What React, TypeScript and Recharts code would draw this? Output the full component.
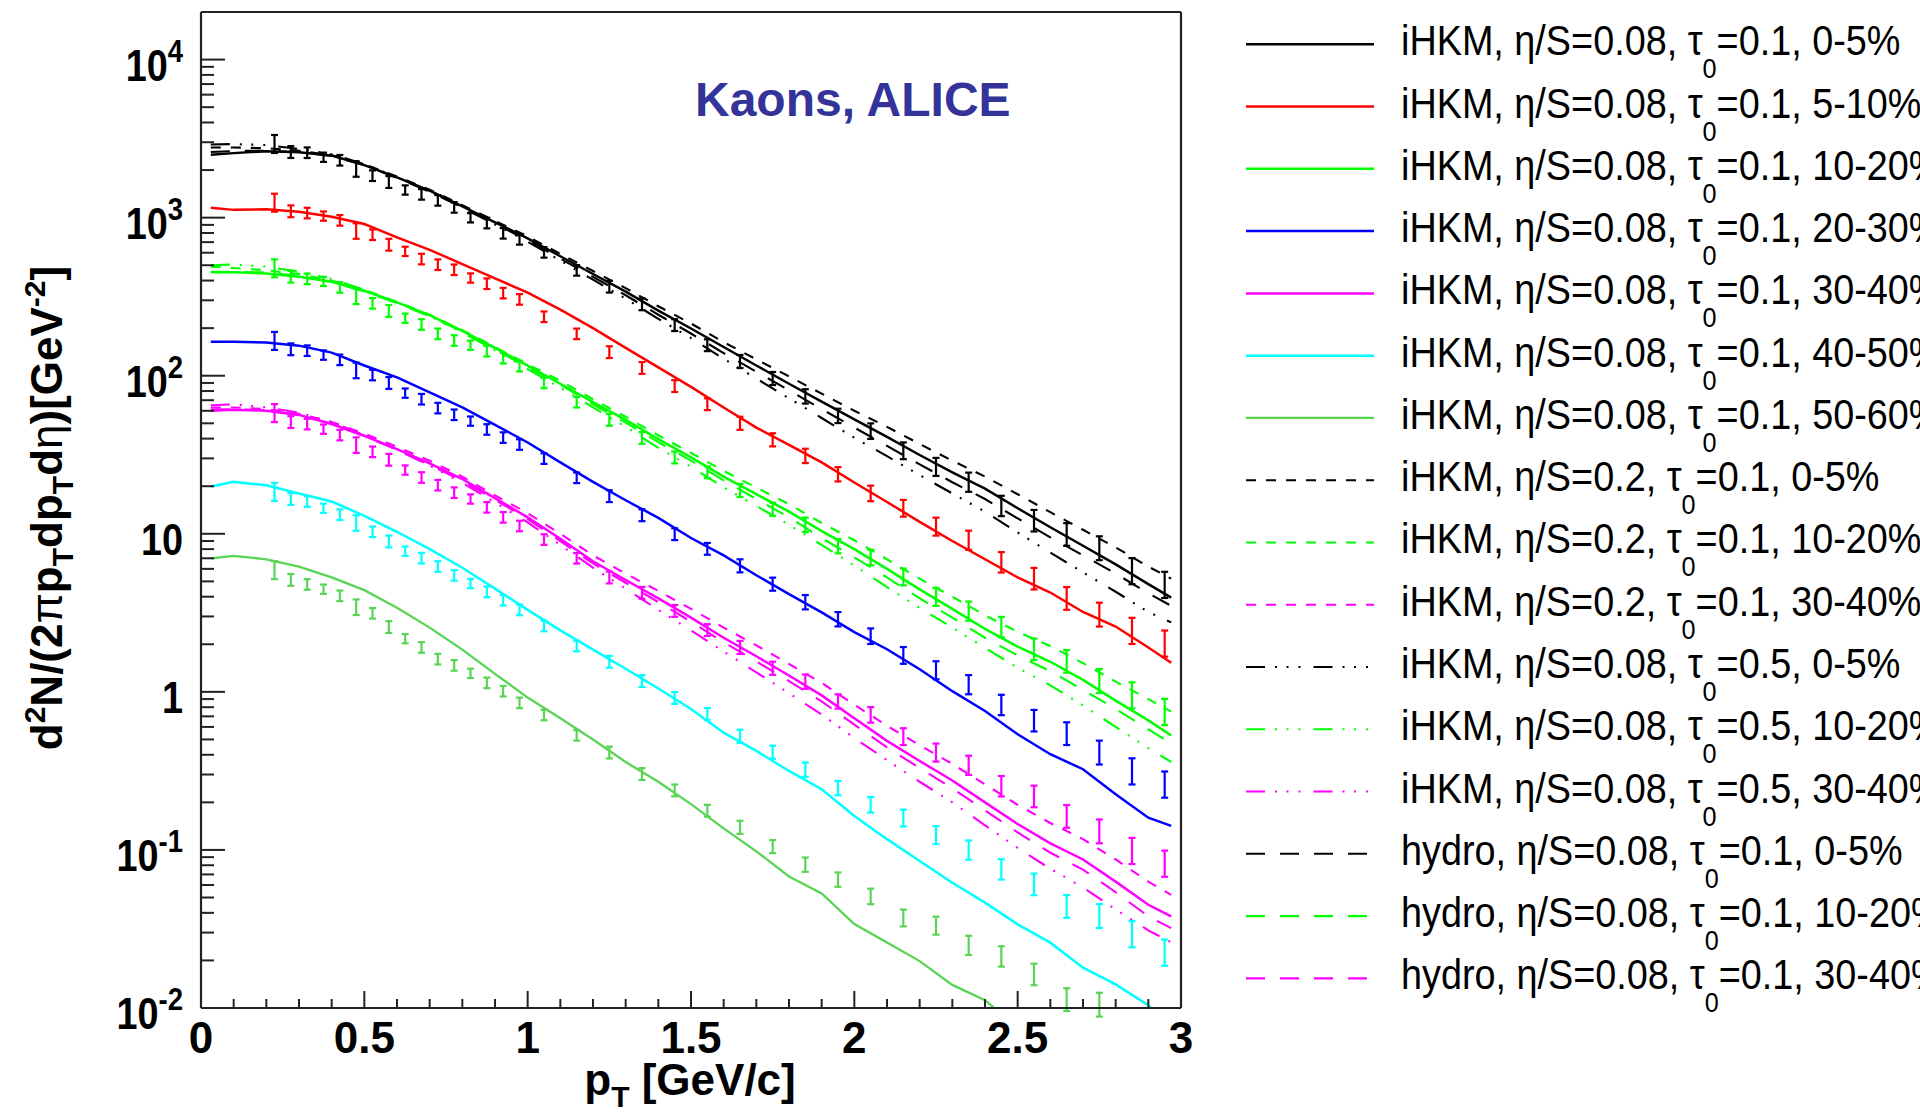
import React from 'react';
import {
  ComposedChart,
  Line,
  Scatter,
  ErrorBar,
  XAxis,
  YAxis,
  ReferenceLine,
  Customized,
} from 'recharts';

// pT grid of the model curves [GeV/c]
const curvePt = [
  0.03, 0.1, 0.2, 0.3, 0.4, 0.5, 0.6, 0.7, 0.8, 0.9, 1.0, 1.1, 1.2, 1.3, 1.4, 1.5,
  1.6, 1.7, 1.8, 1.9, 2.0, 2.1, 2.2, 2.3, 2.4, 2.5, 2.6, 2.7, 2.8, 2.9, 2.97,
];

// iHKM, eta/S = 0.08, tau0 = 0.1
const ihkmC0005 = [2500, 2560, 2630, 2590, 2470, 2150, 1800, 1480, 1180, 935, 740, 570, 440, 340, 258, 199, 152, 116, 89, 68.5, 53, 41, 31.5, 24.5, 19.3, 14.5, 11.0, 8.4, 6.4, 4.8, 3.95];
const ihkmC0510 = [1156, 1120, 1130, 1090, 1013, 911, 750, 626, 508, 413, 335, 262, 200, 150, 113, 85, 63, 47, 36.5, 28.3, 21.1, 15.9, 11.9, 9.0, 6.9, 5.3, 4.25, 3.2, 2.59, 1.91, 1.53];
const ihkmC1020 = [451, 451, 444, 423, 393, 345, 291, 242, 192, 150, 116, 89, 68, 52.5, 39.7, 30.4, 23, 17.8, 13.8, 10.4, 8.0, 6.0, 4.45, 3.35, 2.5, 1.93, 1.55, 1.19, 0.88, 0.66, 0.53];
const ihkmC2030 = [164, 164, 162, 155, 140, 116, 97.6, 78.4, 63, 48.9, 37.8, 28.3, 21.3, 16.3, 12.6, 9.4, 7.3, 5.47, 4.15, 3.18, 2.39, 1.86, 1.39, 1.01, 0.757, 0.539, 0.403, 0.324, 0.225, 0.16, 0.142];
const ihkmC3040 = [60, 61, 60, 56.5, 49.5, 41.7, 34.3, 27.9, 22.2, 16.8, 12.7, 9.3, 6.7, 5.1, 3.9, 2.95, 2.2, 1.68, 1.27, 0.95, 0.68, 0.49, 0.365, 0.275, 0.2, 0.146, 0.11, 0.087, 0.063, 0.045, 0.038];
const ihkmC4050 = [19.9, 21.3, 20.3, 18.0, 16.0, 13.0, 10.3, 8.0, 6.1, 4.5, 3.3, 2.45, 1.85, 1.4, 1.05, 0.78, 0.552, 0.423, 0.316, 0.242, 0.164, 0.117, 0.085, 0.062, 0.0464, 0.0338, 0.0259, 0.018, 0.0141, 0.0104, 0.0075];
const ihkmC5060 = [7.0, 7.25, 6.9, 6.2, 5.3, 4.4, 3.4, 2.55, 1.85, 1.3, 0.92, 0.68, 0.5, 0.36, 0.27, 0.195, 0.137, 0.098, 0.068, 0.053, 0.034, 0.026, 0.0198, 0.014, 0.0112, 0.0075, 0.0058, 0.0045, 0.0036, 0.0028, 0.0024];

// iHKM, eta/S = 0.2, tau0 = 0.1
const eta02C0005 = [2780, 2780, 2750, 2650, 2480, 2180, 1820, 1500, 1200, 955, 760, 590, 460, 358, 275, 214, 163, 127, 99, 77, 60, 47.5, 37, 29, 23, 17.8, 13.7, 10.6, 8.2, 6.2, 5.2];
const eta02C1020 = [490, 480, 465, 440, 400, 350, 293, 243, 194, 152, 118, 93, 71, 55, 42, 32.5, 25, 19.6, 15.4, 11.7, 9.1, 6.9, 5.2, 4.0, 3.05, 2.4, 1.95, 1.52, 1.16, 0.9, 0.75];
const eta02C3040 = [63, 63, 61.5, 57.5, 51, 43, 35.5, 29, 23, 17.5, 13.5, 10, 7.3, 5.6, 4.35, 3.35, 2.55, 1.97, 1.5, 1.14, 0.83, 0.61, 0.46, 0.35, 0.26, 0.193, 0.148, 0.117, 0.087, 0.063, 0.052];

// iHKM, eta/S = 0.08, tau0 = 0.5
const tau05C0005 = [2900, 2920, 2880, 2720, 2520, 2180, 1800, 1470, 1160, 905, 705, 535, 405, 307, 229, 173, 128, 96, 72, 54, 40.5, 31, 23.5, 18, 13.8, 10.2, 7.6, 5.7, 4.3, 3.2, 2.75];
const tau05C1020 = [500, 505, 490, 455, 410, 350, 292, 238, 188, 145, 110, 84, 63, 47.5, 35, 26.5, 19.7, 15, 11.4, 8.5, 6.3, 4.6, 3.4, 2.55, 1.9, 1.42, 1.1, 0.82, 0.6, 0.44, 0.36];
const tau05C3040 = [65, 66, 63, 58.5, 51, 42, 34, 27, 21, 15.8, 11.8, 8.5, 6.1, 4.5, 3.3, 2.45, 1.8, 1.33, 0.98, 0.72, 0.51, 0.37, 0.27, 0.2, 0.143, 0.103, 0.076, 0.058, 0.042, 0.031, 0.026];

// pure hydro, eta/S = 0.08, tau0 = 0.1
const hydroC0005 = [2600, 2640, 2650, 2600, 2460, 2150, 1780, 1460, 1160, 915, 720, 550, 422, 323, 243, 185, 139, 106, 81, 61.5, 47, 36, 27.5, 21.2, 16.6, 12.5, 9.5, 7.3, 5.6, 4.2, 3.5];
const hydroC1020 = [455, 455, 450, 428, 392, 342, 288, 238, 190, 147, 113, 88, 66, 50.5, 38, 29, 21.8, 16.6, 12.7, 9.4, 7.1, 5.3, 3.9, 2.95, 2.2, 1.7, 1.35, 1.03, 0.78, 0.58, 0.47];
const hydroC3040 = [61, 61.5, 60.5, 56.5, 49.5, 41.5, 34, 27.3, 21.6, 16.4, 12.4, 9.0, 6.5, 4.9, 3.7, 2.78, 2.06, 1.56, 1.17, 0.87, 0.62, 0.445, 0.33, 0.245, 0.178, 0.129, 0.096, 0.075, 0.054, 0.038, 0.032];

// ALICE kaon bins [GeV/c] and relative uncertainties
const dataPt = [
  0.225, 0.275, 0.325, 0.375, 0.425, 0.475, 0.525, 0.575, 0.625, 0.675, 0.725, 0.775,
  0.825, 0.875, 0.925, 0.975, 1.05, 1.15, 1.25, 1.35, 1.45, 1.55, 1.65, 1.75, 1.85,
  1.95, 2.05, 2.15, 2.25, 2.35, 2.45, 2.55, 2.65, 2.75, 2.85, 2.95,
];
const relErr = [0.14, 0.09, 0.08, 0.07, 0.08, 0.12, 0.08, 0.09, 0.07, 0.08, 0.08, 0.08, 0.07, 0.08, 0.08, 0.08, 0.08, 0.08, 0.09, 0.09, 0.09, 0.09, 0.1, 0.1, 0.11, 0.11, 0.12, 0.13, 0.14, 0.15, 0.16, 0.17, 0.18, 0.19, 0.21, 0.21];

const alice0005 = [2924, 2600, 2575, 2410, 2306, 2032, 1843, 1680, 1496, 1404, 1286, 1161, 998, 924, 796, 729, 603, 464, 366, 283, 209, 156, 123, 96, 74, 55.7, 44.6, 33.5, 26.5, 21.2, 15.0, 12.1, 9.9, 8.1, 5.8, 4.75];
const alice0510 = [1243, 1097, 1069, 1023, 961, 823, 780, 674, 612, 547, 504, 468, 415, 382, 333, 304, 236, 184, 141, 112, 86, 66, 50, 39.3, 31.1, 23.8, 18, 14.5, 11.1, 9.1, 6.6, 5.2, 3.9, 3.08, 2.43, 2.02];
const alice1020 = [478, 423, 410, 395, 362, 318, 287, 257, 231, 211, 184, 167, 156, 143, 129, 115, 90, 68, 52.6, 40.4, 30.4, 24.5, 18.8, 14.3, 11.4, 8.35, 7.08, 5.33, 3.99, 3.24, 2.57, 1.86, 1.56, 1.17, 0.95, 0.746];
const alice2030 = [166, 147, 144, 135, 126, 108, 101, 90, 77.6, 71, 62.4, 56.6, 51.6, 45.7, 40.6, 36.7, 29.9, 22.6, 17.3, 13.1, 9.94, 8.03, 6.27, 4.8, 3.69, 2.88, 2.25, 1.7, 1.37, 1.11, 0.826, 0.657, 0.544, 0.413, 0.314, 0.259];
const alice3040 = [58, 50.9, 49.4, 45.9, 42.1, 36.4, 33, 29.4, 25.3, 22.7, 20.3, 18.2, 16.6, 14.7, 12.7, 11.2, 9.2, 7.0, 5.29, 4.23, 3.25, 2.46, 1.91, 1.41, 1.16, 0.87, 0.715, 0.521, 0.413, 0.343, 0.253, 0.218, 0.163, 0.131, 0.0985, 0.0818];
const alice4050 = [18.4, 16.6, 16.0, 14.5, 13.2, 11.7, 10.3, 8.94, 7.76, 7.01, 6.21, 5.45, 4.84, 4.29, 3.8, 3.3, 2.61, 1.95, 1.55, 1.17, 0.915, 0.725, 0.524, 0.415, 0.322, 0.246, 0.193, 0.159, 0.124, 0.0998, 0.0753, 0.0605, 0.0439, 0.0382, 0.0293, 0.0224];
const alice5060 = [5.89, 5.11, 4.78, 4.46, 4.05, 3.43, 3.14, 2.57, 2.17, 1.91, 1.61, 1.47, 1.31, 1.14, 1.01, 0.851, 0.714, 0.531, 0.413, 0.302, 0.238, 0.177, 0.139, 0.105, 0.0807, 0.0649, 0.0508, 0.0371, 0.0332, 0.0249, 0.0212, 0.0163, 0.0113, 0.0105, null, null];

const FONT = '"Liberation Sans", Arial, Helvetica, sans-serif';
const AXIS = '#222';

const BLACK = '#000000';
const RED = '#ff0000';
const GREEN = '#00ff00';
const BLUE = '#0000ff';
const MAGENTA = '#ff00ff';
const CYAN = '#00ffff';
const GREEN8 = '#59d454';

// ROOT-like line styles
const DASHED = '10 10';
const DASH3DOT = '19 10 2 9.5 2 10 2 13';
const LONGDASH = '19 15';

type Curve = {
  model: string;
  eta: string;
  tau: string;
  cent: string;
  values: number[];
  color: string;
  dash?: string;
  width: number;
};

const curves: Curve[] = [
  { model: 'iHKM', eta: '0.08', tau: '0.1', cent: '0-5%', values: ihkmC0005, color: BLACK, width: 2.5 },
  { model: 'iHKM', eta: '0.08', tau: '0.1', cent: '5-10%', values: ihkmC0510, color: RED, width: 2.5 },
  { model: 'iHKM', eta: '0.08', tau: '0.1', cent: '10-20%', values: ihkmC1020, color: GREEN, width: 2.5 },
  { model: 'iHKM', eta: '0.08', tau: '0.1', cent: '20-30%', values: ihkmC2030, color: BLUE, width: 2.5 },
  { model: 'iHKM', eta: '0.08', tau: '0.1', cent: '30-40%', values: ihkmC3040, color: MAGENTA, width: 2.5 },
  { model: 'iHKM', eta: '0.08', tau: '0.1', cent: '40-50%', values: ihkmC4050, color: CYAN, width: 2.5 },
  { model: 'iHKM', eta: '0.08', tau: '0.1', cent: '50-60%', values: ihkmC5060, color: GREEN8, width: 2.3 },
  { model: 'iHKM', eta: '0.2', tau: '0.1', cent: '0-5%', values: eta02C0005, color: BLACK, dash: DASHED, width: 2.1 },
  { model: 'iHKM', eta: '0.2', tau: '0.1', cent: '10-20%', values: eta02C1020, color: GREEN, dash: DASHED, width: 2.1 },
  { model: 'iHKM', eta: '0.2', tau: '0.1', cent: '30-40%', values: eta02C3040, color: MAGENTA, dash: DASHED, width: 2.1 },
  { model: 'iHKM', eta: '0.08', tau: '0.5', cent: '0-5%', values: tau05C0005, color: BLACK, dash: DASH3DOT, width: 2.1 },
  { model: 'iHKM', eta: '0.08', tau: '0.5', cent: '10-20%', values: tau05C1020, color: GREEN, dash: DASH3DOT, width: 2.1 },
  { model: 'iHKM', eta: '0.08', tau: '0.5', cent: '30-40%', values: tau05C3040, color: MAGENTA, dash: DASH3DOT, width: 2.1 },
  { model: 'hydro', eta: '0.08', tau: '0.1', cent: '0-5%', values: hydroC0005, color: BLACK, dash: LONGDASH, width: 2.1 },
  { model: 'hydro', eta: '0.08', tau: '0.1', cent: '10-20%', values: hydroC1020, color: GREEN, dash: LONGDASH, width: 2.1 },
  { model: 'hydro', eta: '0.08', tau: '0.1', cent: '30-40%', values: hydroC3040, color: MAGENTA, dash: LONGDASH, width: 2.1 },
];

const measurements = [
  { values: alice0005, color: BLACK },
  { values: alice0510, color: RED },
  { values: alice1020, color: GREEN },
  { values: alice2030, color: BLUE },
  { values: alice3040, color: MAGENTA },
  { values: alice4050, color: CYAN },
  { values: alice5060, color: GREEN8 },
];

const curveRows = (values: number[]) => curvePt.map((x, i) => ({ x, y: values[i] }));

// error stored as [down, up] so the bar is symmetric on the log axis
const pointRows = (values: (number | null)[]) =>
  dataPt
    .map((x, i) => ({ x, y: values[i], r: relErr[i] }))
    .filter((p): p is { x: number; y: number; r: number } => p.y != null)
    .map((p) => ({ x: p.x, y: p.y, err: [p.y - p.y / (1 + p.r), p.y * p.r] }));

const xTicks = Array.from({ length: 31 }, (_, i) => i / 10);
const yTicks: number[] = [];
for (let e = -2; e <= 4; e++) {
  for (let m = 1; m <= 9; m++) {
    const v = m * Math.pow(10, e);
    if (v < 20000) yTicks.push(v);
  }
}

const XTick = (props: any) => {
  const { x, y, payload } = props;
  const v = payload.value as number;
  const major = Math.abs(v * 2 - Math.round(v * 2)) < 1e-6;
  return (
    <g>
      <line x1={x} x2={x} y1={y} y2={y - (major ? 17 : 9)} stroke={AXIS} strokeWidth={2} />
      {major && (
        <text x={x} y={y + 45} textAnchor="middle" fontFamily={FONT} fontWeight="bold" fontSize={44} fill="#000">
          {v === 0 ? '0' : String(Math.round(v * 10) / 10)}
        </text>
      )}
    </g>
  );
};

const YTick = (props: any) => {
  const { x, y, payload } = props;
  const lg = Math.log10(payload.value);
  const e = Math.round(lg);
  const major = Math.abs(lg - e) < 1e-6;
  return (
    <g>
      <line x1={x} x2={x + (major ? 24 : 13)} y1={y} y2={y} stroke={AXIS} strokeWidth={2} />
      {major && (
        <g transform={`translate(${x - 18},${y + 21}) scale(0.86,1)`}>
          <text x={0} y={0} textAnchor="end" fontFamily={FONT} fontWeight="bold" fontSize={44} fill="#000">
            {e === 0 ? '1' : '10'}
            {e !== 0 && e !== 1 && (
              <tspan dy={-19} fontSize={32}>
                {String(e)}
              </tspan>
            )}
          </text>
        </g>
      )}
    </g>
  );
};

const Annotations = () => (
  <g fontFamily={FONT} fontWeight="bold" fill="#000">
    <text x={695} y={116} fontSize={48} fill="#333399">
      Kaons, ALICE
    </text>
    <text x={690} y={1095} fontSize={44} textAnchor="middle">
      p<tspan dy={12} fontSize={30}>T</tspan>
      <tspan dy={-12}> [GeV/c]</tspan>
    </text>
    <text transform="translate(62,508) rotate(-90)" fontSize={44} textAnchor="middle">
      d<tspan dy={-17} fontSize={30}>2</tspan>
      <tspan dy={17}>N/(2</tspan>
      <tspan fontWeight="normal">π</tspan>
      <tspan>p</tspan>
      <tspan dy={11} fontSize={30}>T</tspan>
      <tspan dy={-11}>dp</tspan>
      <tspan dy={11} fontSize={30}>T</tspan>
      <tspan dy={-11}>d</tspan>
      <tspan fontWeight="normal">η</tspan>
      <tspan>)[GeV</tspan>
      <tspan dy={-17} fontSize={30}>-2</tspan>
      <tspan dy={17}>]</tspan>
    </text>
  </g>
);

// legend column to the right of the frame
const LegendBlock = () => (
  <g transform="translate(1220,0)">
    {curves.map((c, i) => {
      const ly = 44.3 + i * 62.27;
      return (
        <g key={i}>
          <line x1={26} x2={154} y1={ly} y2={ly} stroke={c.color} strokeWidth={c.width} strokeDasharray={c.dash} />
          <g transform={`translate(181,${ly + 11}) scale(0.9,1)`}>
            <text x={0} y={0} fontFamily={FONT} fontSize={42} fill="#000">
              {`${c.model}, η/S=${c.eta}, τ`}
              <tspan dy={23} fontSize={28}>
                0
              </tspan>
              <tspan dy={-23}>{`=${c.tau}, ${c.cent}`}</tspan>
            </text>
          </g>
        </g>
      );
    })}
  </g>
);

export default function App() {
  return (
    <div
      style={{
        position: 'absolute',
        left: 0,
        top: 0,
        width: 1920,
        height: 1116,
        overflow: 'hidden',
        background: '#fff',
      }}
    >
      <ComposedChart width={1920} height={1116} margin={{ top: 12, right: 739, bottom: 8, left: 11 }}>
        <XAxis
          dataKey="x"
          type="number"
          domain={[0, 3]}
          ticks={xTicks}
          interval={0}
          allowDataOverflow
          tick={<XTick />}
          tickLine={false}
          tickSize={0}
          tickMargin={0}
          axisLine={{ stroke: AXIS, strokeWidth: 2.2 }}
          height={100}
        />
        <YAxis
          type="number"
          scale="log"
          domain={[0.01, 20000]}
          ticks={yTicks}
          interval={0}
          allowDataOverflow
          tick={<YTick />}
          tickLine={false}
          tickSize={0}
          tickMargin={0}
          axisLine={{ stroke: AXIS, strokeWidth: 2.2 }}
          width={190}
        />
        {/* top and right sides of the frame */}
        <ReferenceLine x={3} stroke={AXIS} strokeWidth={2.2} ifOverflow="visible" />
        <ReferenceLine y={20000} stroke={AXIS} strokeWidth={2.2} ifOverflow="visible" />
        {curves.map((c, i) => (
          <Line
            key={`c${i}`}
            data={curveRows(c.values)}
            dataKey="y"
            type="linear"
            stroke={c.color}
            strokeWidth={c.width}
            strokeDasharray={c.dash}
            dot={false}
            activeDot={false}
            isAnimationActive={false}
          />
        ))}
        {measurements.map((m, i) => (
          <Scatter
            key={`d${i}`}
            data={pointRows(m.values)}
            dataKey="y"
            fill={m.color}
            shape={() => <g />}
            isAnimationActive={false}
          >
            <ErrorBar
              dataKey="err"
              direction="y"
              width={3.5}
              stroke={m.color}
              strokeWidth={2.2}
              isAnimationActive={false}
            />
          </Scatter>
        ))}
        <Customized component={Annotations} />
        <Customized component={LegendBlock} />
      </ComposedChart>
    </div>
  );
}
